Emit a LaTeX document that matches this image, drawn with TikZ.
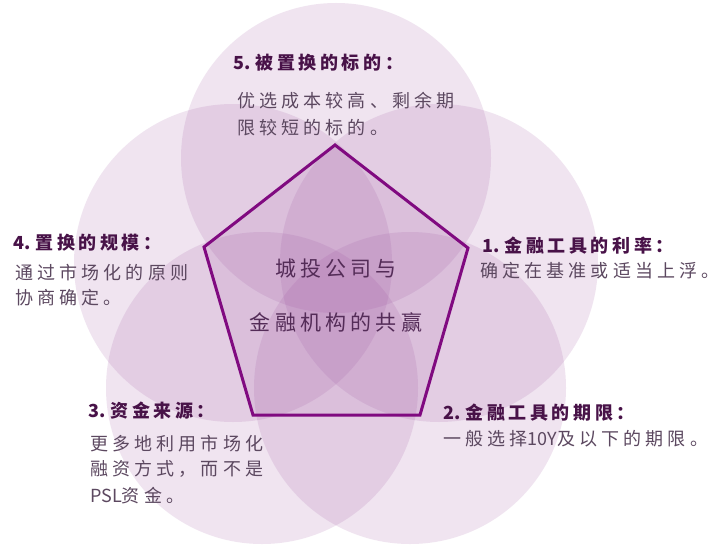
\documentclass[tikz,border=0pt]{standalone}
\usepackage{fontspec}
\newfontfamily\cjkbody[LetterSpace=23]{Noto Sans CJK SC}
\newfontfamily\cjktitle[LetterSpace=20]{Noto Sans CJK SC}
\newfontfamily\cjkcenter[LetterSpace=20]{Noto Sans CJK SC}
\newfontfamily\latinpart{Noto Sans CJK SC}
\newcommand{\lat}[1]{{\latinpart #1}}
\definecolor{petal}{RGB}{155,79,158}
\definecolor{pentline}{RGB}{128,10,128}
\definecolor{titlecol}{RGB}{72,18,72}
\definecolor{bodycol}{RGB}{92,72,96}
\definecolor{centercol}{RGB}{84,44,88}
\tikzset{
  circ/.style={fill=petal,fill opacity=0.15},
  pent/.style={draw=pentline,line width=3pt,line join=miter,fill=petal,fill opacity=0.11,draw opacity=1},
  ttl/.style={anchor=base west,inner sep=0pt,text=titlecol,font=\cjktitle\bfseries\fontsize{18}{20}\selectfont},
  bdy/.style={anchor=base west,inner sep=0pt,text=bodycol,font=\cjkbody\fontsize{18}{20}\selectfont},
  ctr/.style={anchor=base,inner sep=0pt,text=centercol,font=\cjkcenter\fontsize{21}{24}\selectfont}
}
\begin{document}
\begin{tikzpicture}[x=1pt,y=-1pt]
\useasboundingbox (0,0) rectangle (722,551);
\fill[white] (0,0) rectangle (722,551);
% five circles
\fill[circ] (336,158) circle[radius=155pt];
\fill[circ] (439,263) circle[radius=159pt];
\fill[circ] (410,388) circle[radius=156pt];
\fill[circ] (262,388) circle[radius=156pt];
\fill[circ] (233,263) circle[radius=159pt];
% pentagon
\coordinate (pT) at (335,145);
\coordinate (pR) at (468,248);
\coordinate (pBR) at (420,415);
\coordinate (pBL) at (253,415);
\coordinate (pL) at (204,247);
\draw[pent] (pT) -- (pR) -- (pBR) -- (pBL) -- (pL) -- cycle;
% center text
\node[ctr] (c1) at (336,276) {城投公司与};
\node[ctr] (c2) at (336,330) {金融机构的共赢};
% 5
\node[ttl] (t5) at (233,70) {\lat{5.}\hspace{5pt}被置换的标的：};
\node[bdy] (b5a) at (237,107) {优选成本较高、剩余期};
\node[bdy] (b5b) at (237,134) {限较短的标的。};
% 4
\node[ttl] (t4) at (13,249) {\lat{4.}\hspace{5pt}置换的规模：};
\node[bdy] (b4a) at (15,279) {通过市场化的原则};
\node[bdy] (b4b) at (15,304) {协商确定。};
% 1
\node[ttl] (t1) at (482,252) {\lat{1.}\hspace{5pt}金融工具的利率：};
\node[bdy] (b1a) at (480,277) {确定在基准或适当上浮。};
% 3
\node[ttl] (t3) at (88,417) {\lat{3.}\hspace{5pt}资金来源：};
\node[bdy] (b3a) at (90,450) {更多地利用市场化};
\node[bdy] (b3b) at (90,475) {融资方式，而不是};
\node[bdy] (b3c) at (90,502) {\lat{PSL}资金。};
% 2
\node[ttl] (t2) at (443,419) {\lat{2.}\hspace{5pt}金融工具的期限：};
\node[bdy] (b2a) at (443,445) {一般选择\lat{10Y}及以下的期限。};
\end{tikzpicture}
\end{document}
